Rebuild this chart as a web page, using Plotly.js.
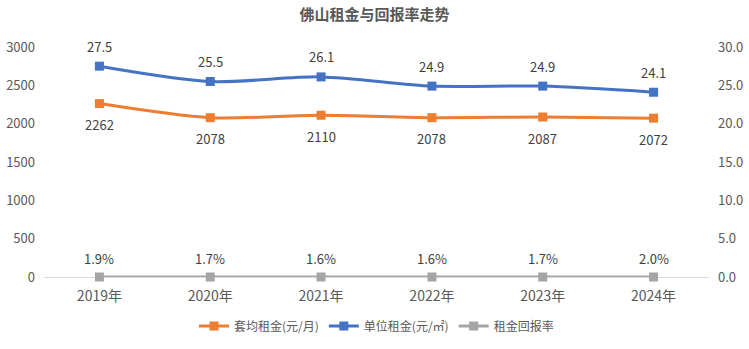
<!DOCTYPE html>
<html>
<head>
<meta charset="utf-8">
<script src="https://cdn.plot.ly/plotly-3.0.1.min.js"></script>
<style>html,body{margin:0;padding:0;background:#fff;}#chart{width:749px;height:349px;}</style>
</head>
<body>
<div id="chart"></div>
<script>
const years = ["2019年","2020年","2021年","2022年","2023年","2024年"];
const avgRent = [2262, 2078, 2110, 2078, 2087, 2072];
const unitRent = [27.5, 25.5, 26.1, 24.9, 24.9, 24.1];
const yieldRate = [1.9, 1.7, 1.6, 1.6, 1.7, 2.0];
const leftTicks = [0, 500, 1000, 1500, 2000, 2500, 3000];
const rightTicks = [0, 5, 10, 15, 20, 25, 30];

const font = "'Noto Sans CJK SC', 'Noto Sans', sans-serif";
const txtColor = "#595959";
const lblColor = "#404040";

function mk(name, ys, color, axis) {
  return {
    x: years, y: ys, name: name, type: "scatter", mode: "lines+markers", yaxis: axis,
    line: {color: color, width: 3, shape: "spline", smoothing: 0.8},
    marker: {symbol: "square", size: 9, color: color}, cliponaxis: false
  };
}
const traces = [
  mk("套均租金(元/月)", avgRent, "#ED7D31", "y"),
  mk("单位租金(元/㎡)", unitRent, "#4472C4", "y2"),
  mk("租金回报率", yieldRate.map(v => v / 100), "#A5A5A5", "y")
];

const annotations = [];
years.forEach((yr, i) => {
  annotations.push({x: yr, y: avgRent[i], xref: "x", yref: "y", text: String(avgRent[i]),
    showarrow: false, yshift: -21, font: {family: font, size: 13, color: lblColor}});
  annotations.push({x: yr, y: unitRent[i], xref: "x", yref: "y2", text: unitRent[i].toFixed(1),
    showarrow: false, yshift: 20, font: {family: font, size: 13, color: lblColor}});
  annotations.push({x: yr, y: yieldRate[i] / 100, xref: "x", yref: "y", text: yieldRate[i].toFixed(1) + "%",
    showarrow: false, yshift: 19, font: {family: font, size: 13, color: lblColor}});
});

const layout = {
  width: 749, height: 349,
  margin: {l: 44, r: 40, t: 47, b: 72, autoexpand: false},
  paper_bgcolor: "#fff", plot_bgcolor: "#fff",
  font: {family: font, color: txtColor, size: 13},
  title: {text: "<b>佛山租金与回报率走势</b>", x: 0.5, xanchor: "center", y: 0.957, yanchor: "middle",
          font: {family: font, size: 15, color: txtColor}},
  showlegend: true,
  legend: {orientation: "h", x: 0.5, xanchor: "center", yref: "container", y: 0.066, yanchor: "middle",
           font: {family: font, size: 12, color: txtColor}, traceorder: "normal"},
  annotations: annotations,
  xaxis: {type: "category", range: [-0.5, 5.5], showgrid: false, zeroline: false,
          showline: false, ticks: "", ticklabelstandoff: 9,
          tickfont: {family: font, size: 14, color: txtColor}},
  yaxis: {range: [0, 3000], tickvals: leftTicks, showgrid: false, zeroline: true,
          zerolinecolor: "#D9D9D9", zerolinewidth: 1, showline: false, ticks: "",
          tickfont: {family: font, size: 13, color: txtColor}, ticklabelstandoff: 8},
  yaxis2: {range: [0, 30], tickvals: rightTicks, ticktext: rightTicks.map(v => v.toFixed(1)),
           overlaying: "y", side: "right", showgrid: false, zeroline: false, showline: false, ticks: "",
           tickfont: {family: font, size: 13, color: txtColor}, ticklabelstandoff: 8}
};

Plotly.newPlot("chart", traces, layout, {displayModeBar: false, staticPlot: true});
</script>
</body>
</html>
